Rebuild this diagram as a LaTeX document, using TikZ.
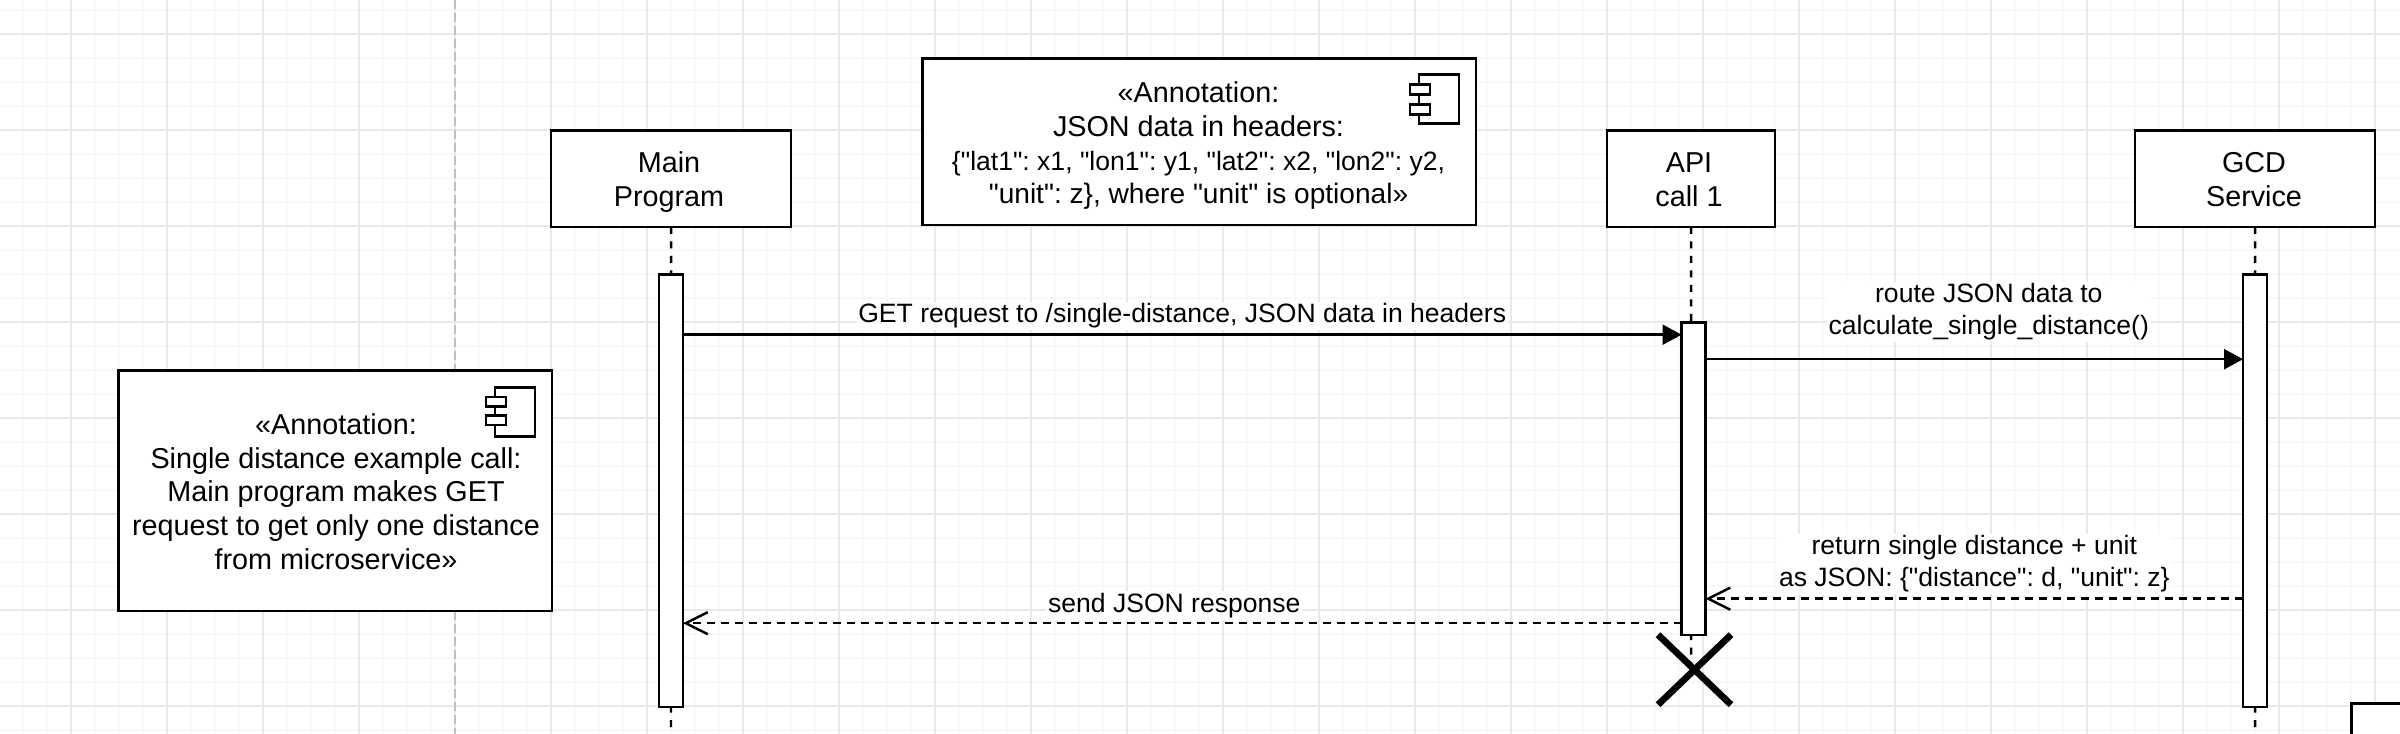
\documentclass[tikz,border=0pt]{standalone}
\usepackage{fontspec}
\setmainfont{Liberation Sans}[Ligatures=TeXOff]
\usetikzlibrary{arrows.meta}
\definecolor{gridminor}{HTML}{F8F8F8}
\definecolor{gridmajor}{HTML}{E9E9E9}
\definecolor{pagebreak}{HTML}{C0C0C0}
\newcommand{\bigfont}{\frenchspacing\fontsize{8.18pt}{9.56pt}\selectfont}
\newcommand{\msgfont}{\frenchspacing\fontsize{7.55pt}{9.1pt}\selectfont}
\tikzset{
  thing/.style={draw=black, fill=white, line width=0.7pt, inner sep=0pt, outer sep=0pt,
    anchor=north west},
  caption/.style={align=center, font=\bigfont, inner sep=0pt},
  activation/.style={draw=black, fill=white, line width=0.7pt, inner sep=0pt, outer sep=0pt,
    minimum width=0.24cm, anchor=north},
  lifeline/.style={line width=0.7pt, dash pattern=on 0.07cm off 0.075cm},
  call/.style={line width=0.7pt, -{Triangle[length=0.19cm,width=0.2cm]}},
  answer/.style={line width=0.7pt, dash pattern=on 0.08cm off 0.06cm,
    -{Straight Barb[length=0.22cm,width=0.22cm]}},
  msg/.style={fill=white, font=\msgfont, align=center, inner sep=0.5pt},
  icon/.style={draw=black, fill=white, line width=0.7pt, inner sep=0pt, outer sep=0pt,
    anchor=north west}
}
\begin{document}
\begin{tikzpicture}[x=0.01cm, y=-0.01cm]
\useasboundingbox (0,-0.7) rectangle (2400,733.3);

% page grid
\foreach \i in {0,...,100} {
  \draw[gridminor, line width=0.6pt] ({-25+24*\i},-1) -- ({-25+24*\i},734);
}
\foreach \i in {0,...,31} {
  \draw[gridminor, line width=0.6pt] (0,{9+24*\i}) -- (2400,{9+24*\i});
}
\foreach \i in {0,...,25} {
  \draw[gridmajor, line width=0.6pt] ({-25+96*\i},-1) -- ({-25+96*\i},734);
}
\foreach \i in {0,...,7} {
  \draw[gridmajor, line width=0.6pt] (0,{33+96*\i}) -- (2400,{33+96*\i});
}
\draw[pagebreak, line width=0.55pt, dash pattern=on 0.09cm off 0.04cm] (455,-1) -- (455,734);

% lifelines with their activations
\node[thing, minimum width=2.4cm, minimum height=0.96cm] (main) at (551,130) {};
\node[thing, minimum width=1.68cm, minimum height=0.96cm] (api) at (1607,130) {};
\node[thing, minimum width=2.4cm, minimum height=0.96cm] (gcd) at (2135,130) {};

\node[caption] (maintext) at (669,182) {\strut Main\\Program\strut};
\node[caption] (apitext) at (1689,182) {\strut API\\call 1\strut};
\node[caption] (gcdtext) at (2254,182) {\strut GCD\\Service\strut};

\coordinate (mainend) at (671,734);
\coordinate (apiend) at (1691,668);
\coordinate (gcdend) at (2255,734);
\draw[lifeline] (main) -- (mainend);
\draw[lifeline] (api) -- (apiend);
\draw[lifeline] (gcd) -- (gcdend);

\node[activation, minimum height=4.32cm] (mainact) at (671,274) {};
\node[activation, minimum height=3.12cm] (apiact) at (1693.5,322) {};
\node[activation, minimum height=4.32cm] (gcdact) at (2255,274) {};

% the destroy cross
\coordinate (xa) at (1658,634);
\coordinate (xb) at (1731,704);
\coordinate (xc) at (1731,634);
\coordinate (xd) at (1658,704);
\draw[line width=1.9pt] (xa) -- (xb);
\draw[line width=1.9pt] (xc) -- (xd);

% annotations
\node[thing, minimum width=4.33cm, minimum height=2.4cm] (noteleft) at (118.5,370) {};
\node[caption] (notelefttext) at (336,491)
{«Annotation:\\
Single distance example call:\\
Main program makes GET\\
request to get only one distance\\
from microservice»};
\node[icon, minimum width=0.4cm, minimum height=0.49cm] (iconleft) at (495,387) {};
\node[icon, minimum width=0.2cm, minimum height=0.095cm] (iconlefta) at (486,396.5) {};
\node[icon, minimum width=0.2cm, minimum height=0.095cm] (iconleftb) at (486,415) {};

\node[thing, minimum width=5.53cm, minimum height=1.66cm] (notetop) at (922.5,58) {};
\node[caption] (notetoptext) at (1198.5,145)
{«Annotation:\\
JSON data in headers:\\
{\msgfont\{"lat1": x1, "lon1": y1, "lat2": x2, "lon2": y2,}\\
{\fontsize{7.99pt}{9.56pt}\selectfont"unit": z\}, where "unit" is optional»}};
\node[icon, minimum width=0.4cm, minimum height=0.49cm] (icontop) at (1419,74) {};
\node[icon, minimum width=0.2cm, minimum height=0.1cm] (icontopa) at (1410,84) {};
\node[icon, minimum width=0.2cm, minimum height=0.1cm] (icontopb) at (1410,104) {};

% messages
\draw[call] (mainact.east |- 0,334) -- (apiact.west |- 0,334)
 node[msg, pos=0.5, above=1pt] (getlabel) {GET request to /single-distance, JSON data in headers};
\draw[call] (apiact.east |- 0,358.5) -- (gcdact.west |- 0,358.5)
 node[msg, pos=0.527, above=4.6pt] (routelabel) {route JSON data to\\calculate\_single\_distance()};
\draw[answer] (gcdact.west |- 0,598) -- (apiact.east |- 0,598)
 node[msg, pos=0.5, above=1pt] (returnlabel) {return single distance + unit\\as JSON: \{"distance": d, "unit": z\}};
\draw[answer] (apiact.west |- 0,622.5) -- (mainact.east |- 0,622.5)
 node[msg, pos=0.508, above=0.7pt] (sendlabel) {send JSON response};

% next figure's corner
\node[draw=black, fill=white, line width=0.85pt, anchor=north west, inner sep=0pt, outer sep=0pt,
 minimum width=1.2cm, minimum height=0.6cm] (corner) at (2351,703) {};

\end{tikzpicture}
\end{document}
